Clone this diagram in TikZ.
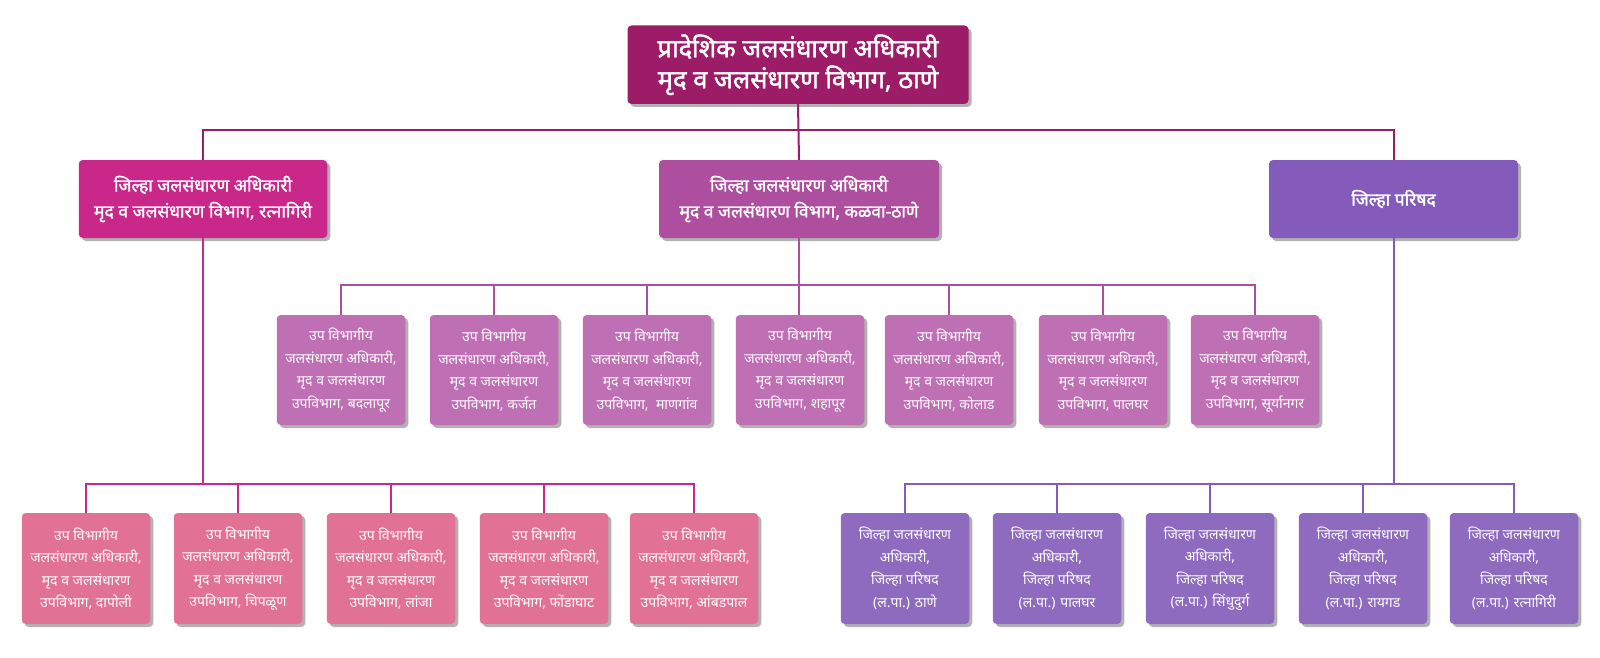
\documentclass[tikz,border=0pt]{standalone}
\usepackage{fontspec}
\setmainfont{Noto Sans}[Script=Devanagari]
\newfontfamily\headfont{Noto Sans}[Script=Devanagari, FakeBold=1.6]
\usetikzlibrary{shadows}
\definecolor{chiefc}{HTML}{9C1C68}
\definecolor{ratnc}{HTML}{C9278A}
\definecolor{kalwac}{HTML}{AD4E9F}
\definecolor{zpc}{HTML}{845BBB}
\definecolor{kalwasub}{HTML}{BF6FB4}
\definecolor{ratnsub}{HTML}{E27196}
\definecolor{zpsub}{HTML}{8F6BC0}
\begin{document}
\begin{tikzpicture}[x=1pt,y=-1pt]
      \useasboundingbox (0,0) rectangle (1600,658);
      \tikzstyle{every node} = [rounded corners=4pt, text=white, align=center, inner sep=0pt,
        drop shadow={shadow xshift=3pt, shadow yshift=-3pt, fill=black, opacity=0.3}]
      \tikzstyle{chief} = [fill=chiefc, minimum width=341pt, minimum height=78.5pt,
        font=\headfont\fontsize{25.5}{31}\selectfont]
      \tikzstyle{dist} = [minimum height=78pt, font=\headfont\fontsize{17.5}{26}\selectfont]
      \tikzstyle{sub} = [minimum width=128.5pt, minimum height=110pt,
        font=\fontsize{14}{22.5}\selectfont]
      \node[chief](pra) at (798,64.75) {प्रादेशिक जलसंधारण अधिकारी\\मृद व जलसंधारण विभाग, ठाणे};

      \node[dist, fill=ratnc, minimum width=248.5pt](ratn) at (203,199)
        {जिल्हा जलसंधारण अधिकारी\\मृद व जलसंधारण विभाग, रत्नागिरी};
      \node[dist, fill=kalwac, minimum width=280pt](kalwa) at (799,199)
        {जिल्हा जलसंधारण अधिकारी\\मृद व जलसंधारण विभाग, कळवा-ठाणे};
      \node[dist, fill=zpc, minimum width=249pt](zp) at (1393.5,199) {जिल्हा परिषद};

      \tikzstyle{every node} += [sub, fill=kalwasub]
      \node(k1) at (341,370) {उप विभागीय\\जलसंधारण अधिकारी,\\मृद व जलसंधारण\\उपविभाग, बदलापूर};
      \node(k2) at (494,370) {उप विभागीय\\जलसंधारण अधिकारी,\\मृद व जलसंधारण\\उपविभाग, कर्जत};
      \node(k3) at (647,370) {उप विभागीय\\जलसंधारण अधिकारी,\\मृद व जलसंधारण\\उपविभाग, ~माणगांव};
      \node(k4) at (800,370) {उप विभागीय\\जलसंधारण अधिकारी,\\मृद व जलसंधारण\\उपविभाग, शहापूर};
      \node(k5) at (949,370) {उप विभागीय\\जलसंधारण अधिकारी,\\मृद व जलसंधारण\\उपविभाग, कोलाड};
      \node(k6) at (1103,370) {उप विभागीय\\जलसंधारण अधिकारी,\\मृद व जलसंधारण\\उपविभाग, पालघर};
      \node(k7) at (1255,370) {उप विभागीय\\जलसंधारण अधिकारी,\\मृद व जलसंधारण\\उपविभाग, सूर्यानगर};

      \tikzstyle{every node} += [minimum height=111pt, fill=ratnsub]
      \node(r1) at (86,568.5) {उप विभागीय\\जलसंधारण अधिकारी,\\मृद व जलसंधारण\\उपविभाग, दापोली};
      \node(r2) at (238,568.5) {उप विभागीय\\जलसंधारण अधिकारी,\\मृद व जलसंधारण\\उपविभाग, चिपळूण};
      \node(r3) at (391,568.5) {उप विभागीय\\जलसंधारण अधिकारी,\\मृद व जलसंधारण\\उपविभाग, लांजा};
      \node(r4) at (544,568.5) {उप विभागीय\\जलसंधारण अधिकारी,\\मृद व जलसंधारण\\उपविभाग, फोंडाघाट};
      \node(r5) at (694,568.5) {उप विभागीय\\जलसंधारण अधिकारी,\\मृद व जलसंधारण\\उपविभाग, आंबडपाल};

      \tikzstyle{every node} += [fill=zpsub]
      \node(p1) at (905,568.5) {जिल्हा जलसंधारण\\अधिकारी,\\जिल्हा परिषद\\(ल.पा.) ठाणे};
      \node(p2) at (1057,568.5) {जिल्हा जलसंधारण\\अधिकारी,\\जिल्हा परिषद\\(ल.पा.) पालघर};
      \node(p3) at (1210,568.5) {जिल्हा जलसंधारण\\अधिकारी,\\जिल्हा परिषद\\(ल.पा.) सिंधुदुर्ग};
      \node(p4) at (1363,568.5) {जिल्हा जलसंधारण\\अधिकारी,\\जिल्हा परिषद\\(ल.पा.) रायगड};
      \node(p5) at (1514,568.5) {जिल्हा जलसंधारण\\अधिकारी,\\जिल्हा परिषद\\(ल.पा.) रत्नागिरी};

      \tikzstyle{every path} = [line width=2pt]
      \draw[chiefc] (pra.south) -- (kalwa.north);
      \draw[chiefc] (pra.south) ++(0,26) -| (ratn.north);
      \draw[chiefc] (pra.south) ++(0,26) -| (zp.north);

      \draw[kalwac] (kalwa.south) ++(0,46.5) -| (k1.north);
      \draw[kalwac] (kalwa.south) ++(0,46.5) -| (k7.north);
      \draw[kalwac] (kalwa.south) -- (kalwa.south |- k4.north);
      \draw[kalwac] (k2.north) -- ++(0,-30.5);
      \draw[kalwac] (k3.north) -- ++(0,-30.5);
      \draw[kalwac] (k5.north) -- ++(0,-30.5);
      \draw[kalwac] (k6.north) -- ++(0,-30.5);

      \draw[ratnc] (ratn.south) -- ++(0,245.5) coordinate (rbus);
      \draw[ratnc] (r1.north) |- (rbus) -| (r5.north);
      \draw[ratnc] (r2.north) -- ++(0,-29.5);
      \draw[ratnc] (r3.north) -- ++(0,-29.5);
      \draw[ratnc] (r4.north) -- ++(0,-29.5);

      \draw[zpc] (zp.south) -- ++(0,245.5) coordinate (pbus);
      \draw[zpc] (p1.north) |- (pbus) -| (p5.north);
      \draw[zpc] (p2.north) -- ++(0,-29.5);
      \draw[zpc] (p3.north) -- ++(0,-29.5);
      \draw[zpc] (p4.north) -- ++(0,-29.5);
    \end{tikzpicture}
\end{document}
